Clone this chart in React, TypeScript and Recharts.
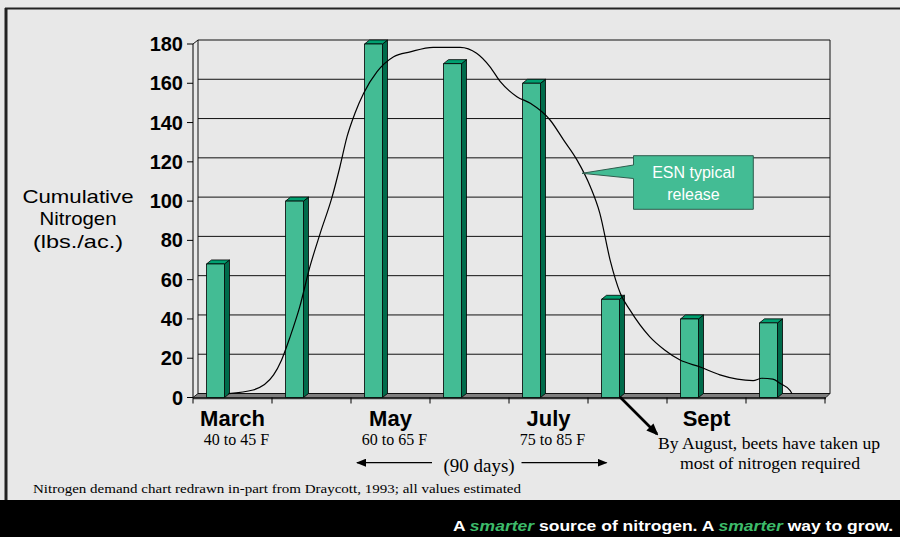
import React from 'react'
import { ComposedChart, Bar, Line, XAxis, YAxis, CartesianGrid } from 'recharts'

const periods = ['March', '', 'May', '', 'July', '', 'Sept', '']
const temps = ['40 to 45 F', '', '60 to 65 F', '', '75 to 85 F', '', '', '']
const demand = [68, 100, 180, 170, 160, 50, 40, 38]
const yTicks = [0, 20, 40, 60, 80, 100, 120, 140, 160, 180]

// ESN typical release curve, x measured in bar slots (0..8)
const esnX = [0.45, 0.76, 1.02, 1.12, 1.23, 1.35, 1.48, 1.61, 1.76, 1.86, 1.95, 2.05, 2.16, 2.33, 2.54, 2.75, 3.04, 3.38, 3.59, 3.76, 3.89, 4.1, 4.27, 4.52, 4.69, 4.86, 5.03, 5.15, 5.28, 5.41, 5.53, 5.78, 5.97, 6.16, 6.42, 6.67, 7.09, 7.2, 7.34, 7.43, 7.56, 7.58]
const esnY = [2, 3.8, 11.5, 19, 31, 46, 66.6, 83.6, 102, 117.5, 132.8, 144.7, 154.9, 165.9, 173.5, 176, 178.3, 178.3, 175.3, 168.4, 160.8, 153.2, 149.8, 141.3, 131.2, 121, 107.3, 93.8, 70, 53, 44.6, 31, 24.2, 19.2, 15.5, 11.5, 8.6, 9.8, 9.4, 7.2, 3.5, 2]

const data = demand.map((d, i) => ({ slot: `s${i}`, demand: d }))
const curve = esnX.map((u, i) => ({ u, v: esnY[i] }))

const SANS = 'Liberation Sans, Arial, sans-serif'
const SERIF = 'Liberation Serif, Times New Roman, serif'
const DX = 5
const DY = 4

function Bar3D(props: any) {
  const { x, y, width, height } = props
  if (!height || height <= 0) return null
  const l = x - 17.5
  const r = l + width
  const b = y + height
  return (
    <g stroke="#000" strokeWidth={0.8} strokeLinejoin="round">
      <polygon points={`${r},${y} ${r + DX},${y - DY} ${r + DX},${b - DY} ${r},${b}`} fill="#006b4b" />
      <polygon points={`${l},${y} ${l + DX},${y - DY} ${r + DX},${y - DY} ${r},${y}`} fill="#00a070" />
      <rect x={l} y={y} width={width} height={height} fill="#43bc94" />
    </g>
  )
}

function MonthTick(props: any) {
  const { x, y, payload } = props
  const i = payload.index
  const off = payload.offset ?? 39.5
  return (
    <g>
      <line x1={x - off} x2={x - off} y1={y} y2={y + 6} stroke="#000" />
      {i === periods.length - 1 && <line x1={x + off} x2={x + off} y1={y} y2={y + 6} stroke="#000" />}
      {periods[i] && (
        <text x={x} y={y + 28.5} textAnchor="middle" fontFamily={SANS} fontWeight="bold" fontSize={22} fill="#000">
          {periods[i]}
        </text>
      )}
      {temps[i] && (
        <text x={x + 4} y={y + 47.5} textAnchor="middle" fontFamily={SERIF} fontSize={16} fill="#000">
          {temps[i]}
        </text>
      )}
    </g>
  )
}

const backGrid = (p: any) => (
  <line key={`g${p.y1}`} x1={p.x1 + DX} x2={p.x2 + DX} y1={p.y1 - DY} y2={p.y2 - DY} stroke="#111" strokeWidth={1} />
)

export default function App() {
  const layer: React.CSSProperties = { position: 'absolute', left: 0, top: 0 }
  return (
    <div style={{ position: 'absolute', left: 0, top: 0, width: 900, height: 537, background: '#e8e8e8', overflow: 'hidden' }}>
      <svg width={900} height={537} style={layer}>
        <line x1={198} x2={198} y1={40} y2={393.5} stroke="#111" />
        <line x1={830} x2={830} y1={40} y2={393.5} stroke="#111" />
        <line x1={193} x2={198} y1={44} y2={40} stroke="#111" />
        <polygon points="193,397.5 826,397.5 830,393.5 198,393.5" fill="#7f7f7f" stroke="#222" strokeWidth={1} />
        <line x1={193} x2={826} y1={398.5} y2={398.5} stroke="#333" strokeWidth={1.5} />
      </svg>
      <div style={layer}>
        <ComposedChart width={900} height={537} data={data} margin={{ top: 44, right: 75, bottom: 79.5, left: 133 }}>
          <CartesianGrid vertical={false} horizontal={backGrid} />
          <XAxis dataKey="slot" height={60} tickLine={false} axisLine={false} tickSize={0} tickMargin={0} interval={0} tick={<MonthTick />} />
          <XAxis xAxisId="t" type="number" dataKey="u" domain={[0, 8]} hide />
          <YAxis
            domain={[0, 180]}
            ticks={yTicks}
            width={60}
            tickSize={6}
            tickMargin={4}
            axisLine={{ stroke: '#000' }}
            tickLine={{ stroke: '#000' }}
            tick={{ fontFamily: SANS, fontWeight: 'bold', fontSize: 20, fill: '#000' }}
          />
          <Bar dataKey="demand" barSize={18} shape={Bar3D} isAnimationActive={false} />
          <Line data={curve} xAxisId="t" dataKey="v" type="monotone" stroke="#000" strokeWidth={1.2} dot={false} activeDot={false} isAnimationActive={false} />
        </ComposedChart>
      </div>
      <svg width={900} height={537} style={{ ...layer, pointerEvents: 'none' }}>
        <defs>
          <marker id="ah" markerWidth={10} markerHeight={8} refX={9} refY={4} orient="auto" markerUnits="userSpaceOnUse">
            <path d="M0,0 L10,4 L0,8 Z" fill="#000" />
          </marker>
          <marker id="ahBig" markerWidth={12} markerHeight={10} refX={10} refY={5} orient="auto" markerUnits="userSpaceOnUse">
            <path d="M0,0 L12,5 L0,10 Z" fill="#000" />
          </marker>
        </defs>
        {/* frame */}
        <line x1={5} x2={900} y1={8.5} y2={8.5} stroke="#222" strokeWidth={2} />
        <line x1={6} x2={6} y1={8} y2={500} stroke="#222" strokeWidth={3} />

        {/* y axis title */}
        <g fontFamily={SANS} fontSize={19} fill="#000" textAnchor="middle">
          <text x={78} y={202.5} textLength={111} lengthAdjust="spacingAndGlyphs">Cumulative</text>
          <text x={78} y={225} textLength={77} lengthAdjust="spacingAndGlyphs">Nitrogen</text>
          <text x={78} y={247.5} textLength={90} lengthAdjust="spacingAndGlyphs">(lbs./ac.)</text>
        </g>

        {/* callout */}
        <path d="M633.5,165 L582,173.3 L633.5,178.5 L633.5,209.3 L753.3,209.3 L753.3,155.7 L633.5,155.7 Z" fill="#43bc94" stroke="#2f5d4e" strokeWidth={1} />
        <g fontFamily={SANS} fontSize={16} fill="#fff" textAnchor="middle">
          <text x={693.5} y={178}>ESN typical</text>
          <text x={693.5} y={199.5}>release</text>
        </g>

        {/* 90 days span */}
        <line x1={432} x2={357} y1={462.7} y2={462.7} stroke="#000" strokeWidth={1.2} markerEnd="url(#ah)" />
        <line x1={521.5} x2={606.5} y1={462.7} y2={462.7} stroke="#000" strokeWidth={1.2} markerEnd="url(#ah)" />
        <text x={479} y={471.5} textAnchor="middle" fontFamily={SERIF} fontSize={19} fill="#000">(90 days)</text>

        {/* August note */}
        <line x1={620} y1={397} x2={657} y2={434} stroke="#000" strokeWidth={2.6} markerEnd="url(#ahBig)" />
        <g fontFamily={SERIF} fontSize={16.5} fill="#000" textAnchor="middle">
          <text x={769} y={449} textLength={222} lengthAdjust="spacingAndGlyphs">By August, beets have taken up</text>
          <text x={770} y={469} textLength={180} lengthAdjust="spacingAndGlyphs">most of nitrogen required</text>
        </g>

        <text x={33} y={493} fontFamily={SERIF} fontSize={13} fill="#000" textLength={488} lengthAdjust="spacingAndGlyphs">
          Nitrogen demand chart redrawn in-part from Draycott, 1993; all values estimated
        </text>

        {/* footer band */}
        <rect x={0} y={500} width={900} height={37} fill="#000" />
        <text x={453} y={531} fontFamily={SANS} fontWeight="bold" fontSize={15} fill="#fff" textLength={440} lengthAdjust="spacingAndGlyphs">
          A <tspan fill="#3dbb6a" fontStyle="italic">smarter</tspan> source of nitrogen. A <tspan fill="#3dbb6a" fontStyle="italic">smarter</tspan> way to grow.
        </text>
      </svg>
    </div>
  )
}
